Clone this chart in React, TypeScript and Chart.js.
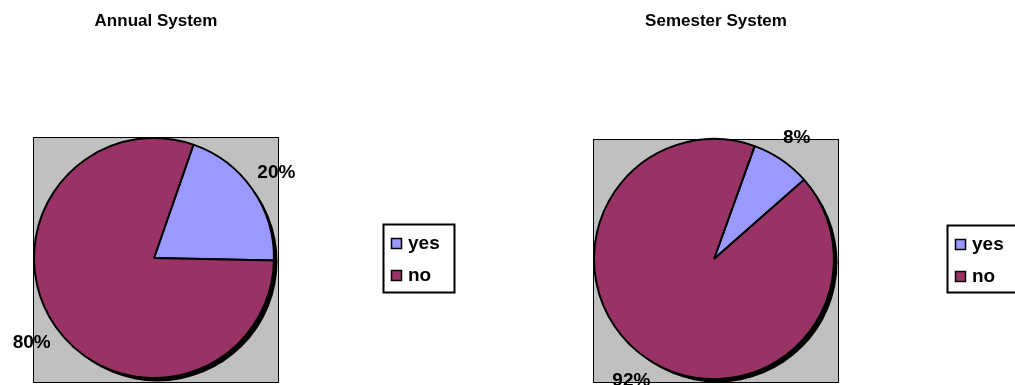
import React, { useEffect, useRef } from "react";
import { Chart, registerables } from "chart.js";

Chart.register(...registerables);

const categories = ["yes", "no"];
const annualValues = [20, 80];
const semesterValues = [8, 92];
const chartTitles = ["Annual System", "Semester System"];
const sliceColors = ["#9999FF", "#993366"];

const FONT = "'Liberation Sans', Arial, Helvetica, sans-serif";

const decorPlugin = {
  id: "pieDecor",
  beforeDraw(chart: any, _args: any, opts: any) {
    const ctx = chart.ctx;
    const sq = opts.square;
    ctx.save();
    ctx.fillStyle = "#C0C0C0";
    ctx.fillRect(sq.x, sq.y, sq.w, sq.h);
    ctx.strokeStyle = "#000";
    ctx.lineWidth = 1;
    ctx.strokeRect(sq.x + 0.5, sq.y + 0.5, sq.w - 1, sq.h - 1);
    const meta = chart.getDatasetMeta(0);
    const arc: any = meta.data[0];
    if (arc) {
      ctx.beginPath();
      ctx.arc(arc.x + 3.5, arc.y + 3.5, arc.outerRadius, 0, Math.PI * 2);
      ctx.fillStyle = "#000";
      ctx.fill();
    }
    ctx.restore();
  },
  afterDraw(chart: any, _args: any, opts: any) {
    const ctx = chart.ctx;
    ctx.save();
    const meta = chart.getDatasetMeta(0);
    const values: number[] = chart.data.datasets[0].data;
    const total = values.reduce((a, b) => a + b, 0);
    ctx.fillStyle = "#000";
    ctx.font = `bold ${opts.labelSize}px ${FONT}`;
    ctx.textAlign = "center";
    ctx.textBaseline = "middle";
    meta.data.forEach((arc: any, i: number) => {
      const mid = (arc.startAngle + arc.endAngle) / 2;
      const d = arc.outerRadius + opts.labelOffset;
      const x = arc.x + Math.cos(mid) * d;
      const y = arc.y + Math.sin(mid) * d;
      ctx.fillText(Math.round((values[i] / total) * 100) + "%", x, y);
    });
    ctx.font = `bold ${opts.titleSize}px ${FONT}`;
    ctx.fillText(opts.title, opts.titleX, opts.titleY);
    const lg = opts.legend;
    ctx.fillStyle = "#fff";
    ctx.fillRect(lg.x, lg.y, lg.w, lg.h);
    ctx.strokeStyle = "#000";
    ctx.lineWidth = 2;
    ctx.strokeRect(lg.x + 0.5, lg.y + 0.5, lg.w, lg.h);
    ctx.font = `bold ${opts.legendSize}px ${FONT}`;
    ctx.textAlign = "left";
    const labels: string[] = chart.data.labels;
    labels.forEach((lab, i) => {
      const cy = lg.y + 19 + i * 32;
      ctx.fillStyle = sliceColors[i];
      ctx.fillRect(lg.x + 8, cy - 5, 11, 11);
      ctx.strokeStyle = "#000";
      ctx.lineWidth = 1.5;
      ctx.strokeRect(lg.x + 8.5, cy - 4.5, 10, 10);
      ctx.fillStyle = "#000";
      ctx.fillText(lab, lg.x + 25, cy + 1);
    });
    ctx.restore();
  },
};

function makeChart(
  canvas: HTMLCanvasElement,
  values: number[],
  rotation: number,
  padding: any,
  decor: any
) {
  return new Chart(canvas, {
    type: "pie",
    data: {
      labels: categories,
      datasets: [
        {
          data: values,
          backgroundColor: sliceColors,
          borderColor: "#000",
          borderWidth: 2,
          hoverOffset: 0,
        },
      ],
    },
    options: {
      animation: false,
      responsive: false,
      maintainAspectRatio: false,
      rotation,
      layout: { padding },
      events: [],
      plugins: {
        legend: { display: false },
        title: { display: false },
        tooltip: { enabled: false },
        pieDecor: decor,
      } as any,
    },
    plugins: [decorPlugin as any],
  });
}

export default function App() {
  const leftRef = useRef<HTMLCanvasElement>(null);
  const rightRef = useRef<HTMLCanvasElement>(null);

  useEffect(() => {
    const c1 = makeChart(
      leftRef.current!,
      annualValues,
      19.2,
      { left: 33, right: 285, top: 137, bottom: 6 },
      {
        square: { x: 33, y: 137, w: 246, h: 246 },
        title: chartTitles[0],
        titleX: 156,
        titleY: 21,
        titleSize: 17,
        labelSize: 19,
        labelOffset: 29,
        legendSize: 19,
        legend: { x: 383, y: 224, w: 71, h: 68 },
      }
    );
    const c2 = makeChart(
      rightRef.current!,
      semesterValues,
      19.8,
      { left: 33, right: 180, top: 138, bottom: 5 },
      {
        square: { x: 33, y: 139, w: 246, h: 244 },
        title: chartTitles[1],
        titleX: 156,
        titleY: 21,
        titleSize: 17,
        labelSize: 19,
        labelOffset: 27,
        legendSize: 19,
        legend: { x: 387, y: 225, w: 71, h: 67 },
      }
    );
    return () => {
      c1.destroy();
      c2.destroy();
    };
  }, []);

  return (
    <div
      style={{
        position: "absolute",
        left: 0,
        top: 0,
        width: 1015,
        height: 385,
        overflow: "hidden",
        background: "#fff",
      }}
    >
      <canvas
        ref={leftRef}
        width={560}
        height={385}
        style={{ position: "absolute", left: 0, top: 0, width: 560, height: 385 }}
      />
      <canvas
        ref={rightRef}
        width={455}
        height={385}
        style={{ position: "absolute", left: 560, top: 0, width: 455, height: 385 }}
      />
    </div>
  );
}
